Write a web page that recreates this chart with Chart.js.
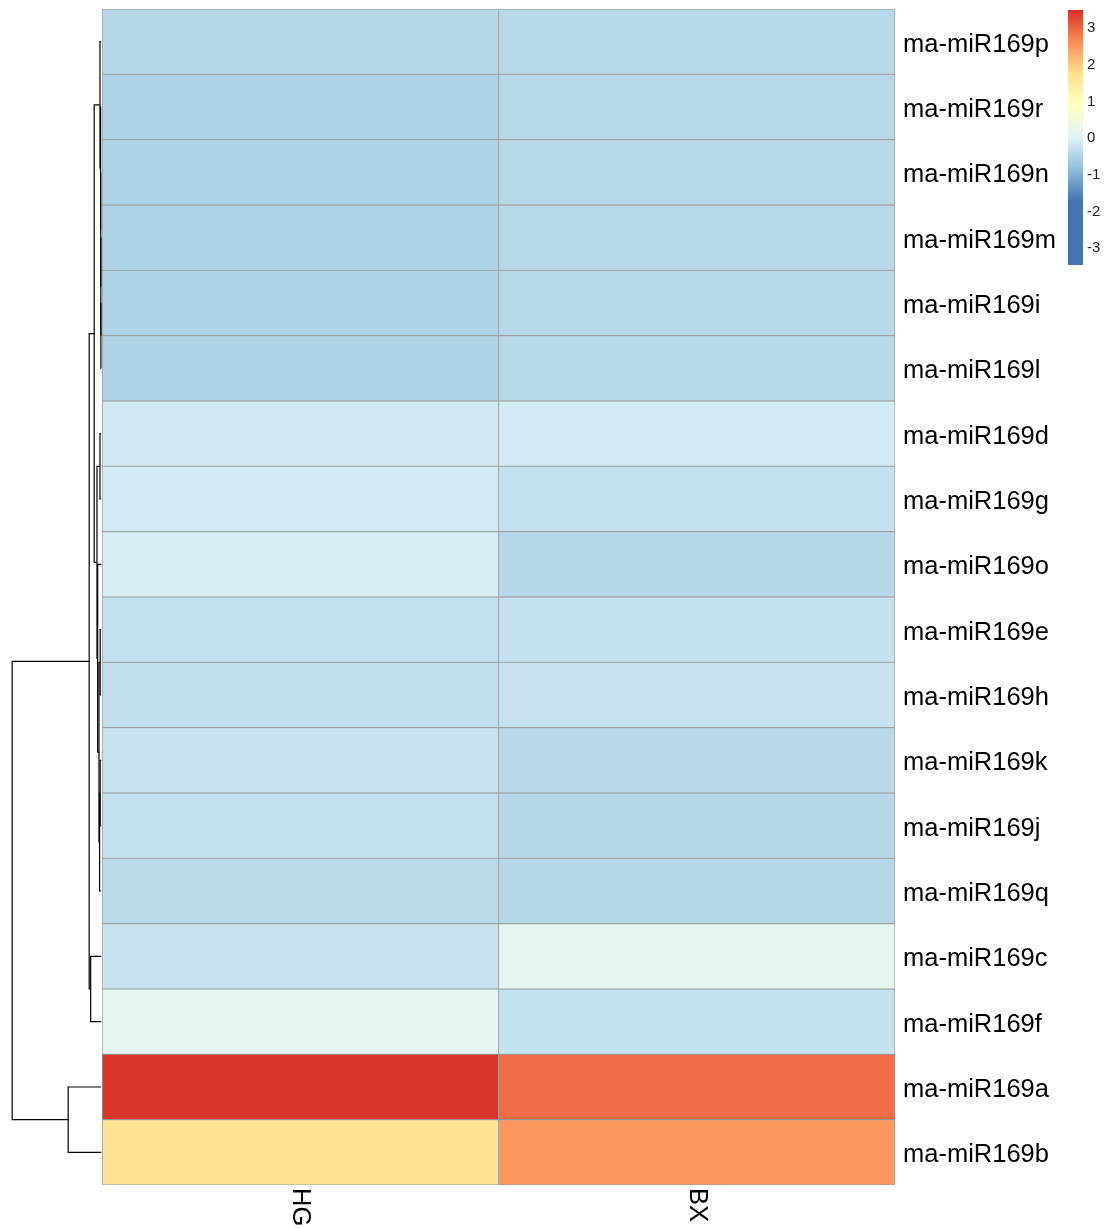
<!DOCTYPE html>
<html lang="en">
<head>
    <meta charset="UTF-8">
    <title>miR169 heatmap</title>
    <style>
        body { margin: 0; background: #ffffff; }
        .wrap { position: relative; width: 1107px; height: 1229px; }
        #heatmap { position: absolute; left: 0; top: 0; }
        #colorKey { position: absolute; left: 1058px; top: 0; }
    </style>
</head>
<body>
<div class="wrap">
    <canvas id="heatmap" width="1058" height="1229"></canvas>
    <canvas id="colorKey" width="49" height="280"></canvas>
</div>

<script src="https://cdn.jsdelivr.net/npm/chart.js"></script>
<script>
// rows in the clustered order, top to bottom
const rowLabels = [
    'ma-miR169p', 'ma-miR169r', 'ma-miR169n', 'ma-miR169m', 'ma-miR169i', 'ma-miR169l',
    'ma-miR169d', 'ma-miR169g', 'ma-miR169o', 'ma-miR169e', 'ma-miR169h', 'ma-miR169k',
    'ma-miR169j', 'ma-miR169q', 'ma-miR169c', 'ma-miR169f', 'ma-miR169a', 'ma-miR169b'
];
const columns = ['HG', 'BX'];

// values
const hgValues = [-0.44, -0.50, -0.50, -0.50, -0.50, -0.50, -0.13, -0.12, -0.07,
                  -0.28, -0.30, -0.23, -0.28, -0.38, -0.23, 0.16, 3.45, 1.68];
const bxValues = [-0.42, -0.42, -0.42, -0.42, -0.42, -0.42, -0.12, -0.28, -0.44,
                  -0.27, -0.25, -0.41, -0.44, -0.43, 0.16, -0.27, 2.94, 2.53];

// colour scale (RdYlBu reversed) and colour key
const colorStops = [-1.7, -0.833, 0.033, 0.9, 1.767, 2.633, 3.5];
const colorRamp = ['#4575B4', '#91BFDB', '#E0F3F8', '#FFFFBF', '#FEE090', '#FC8D59', '#D73027'];
const keyRange = [-3.46, 3.5];
const keyTicks = [-3, -2, -1, 0, 1, 2, 3];

// row clustering: [child, child, height]; numbers refer to earlier merges (1-based)
const merges = [
    ['ma-miR169i', 'ma-miR169l', 0.3],
    ['ma-miR169m', 1, 0.4],
    ['ma-miR169n', 2, 0.5],
    ['ma-miR169r', 3, 0.6],
    ['ma-miR169p', 4, 1.2],
    ['ma-miR169d', 'ma-miR169g', 1.2],
    ['ma-miR169k', 'ma-miR169j', 1.0],
    [7, 'ma-miR169q', 1.6],
    ['ma-miR169e', 'ma-miR169h', 1.0],
    [9, 8, 2.2],
    ['ma-miR169o', 10, 3.5],
    [6, 11, 4.2],
    [5, 12, 7.0],
    ['ma-miR169c', 'ma-miR169f', 10.5],
    [13, 14, 12.0],
    ['ma-miR169a', 'ma-miR169b', 33],
    [15, 16, 89]
];

Chart.defaults.font.family = '"Liberation Sans", Arial, sans-serif';
Chart.defaults.color = '#000';

function hexToRgb(hex) {
    const n = parseInt(hex.slice(1), 16);
    return [(n >> 16) & 255, (n >> 8) & 255, n & 255];
}

function valueColor(v) {
    if (v <= colorStops[0]) return colorRamp[0];
    for (let i = 1; i < colorStops.length; i++) {
        if (v <= colorStops[i]) {
            const t = (v - colorStops[i - 1]) / (colorStops[i] - colorStops[i - 1]);
            const a = hexToRgb(colorRamp[i - 1]);
            const b = hexToRgb(colorRamp[i]);
            const c = a.map((x, k) => Math.round(x + (b[k] - x) * t));
            return `rgb(${c[0]}, ${c[1]}, ${c[2]})`;
        }
    }
    return colorRamp[colorRamp.length - 1];
}

// dendrogram lives left of column 0 on the same x axis
const dendroSpan = 0.2245;
const leafGap = 0.0025;
const rootHeight = merges[merges.length - 1][2];
const hx = h => -(leafGap + h / rootHeight * dendroSpan);

const leafIndex = {};
rowLabels.forEach((r, i) => { leafIndex[r] = i; });
const nodes = [];
const nodeOf = ref => typeof ref === 'string' ? { y: leafIndex[ref], h: 0 } : nodes[ref - 1];

const dendroDatasets = merges.map(([a, b, h]) => {
    const A = nodeOf(a), B = nodeOf(b);
    nodes.push({ y: (A.y + B.y) / 2, h: h });
    return {
        type: 'line',
        indexAxis: 'x',
        xAxisID: 'x',
        yAxisID: 'yd',
        data: [
            { x: hx(A.h), y: A.y },
            { x: hx(h), y: A.y },
            { x: hx(h), y: B.y },
            { x: hx(B.h), y: B.y }
        ],
        borderColor: '#000',
        borderWidth: 1.2,
        pointRadius: 0,
        fill: false,
        tension: 0
    };
});

const cellDatasets = [hgValues, bxValues].map((vals, ci) => ({
    type: 'bar',
    indexAxis: 'y',
    label: columns[ci],
    xAxisID: 'x',
    yAxisID: 'y',
    data: rowLabels.map(() => [ci, ci + 1]),
    backgroundColor: vals.map(valueColor),
    borderColor: '#999999',
    borderWidth: 0.8,
    borderSkipped: false,
    barPercentage: 1,
    categoryPercentage: 1,
    grouped: false
}));

// column names, rotated clockwise under the cells
const columnLabelPlugin = {
    id: 'columnLabels',
    afterDraw(chart) {
        const { ctx, chartArea, scales } = chart;
        ctx.save();
        ctx.font = '25.5px "Liberation Sans", Arial, sans-serif';
        ctx.fillStyle = '#000';
        ctx.textAlign = 'left';
        ctx.textBaseline = 'middle';
        columns.forEach((name, i) => {
            const x = scales.x.getPixelForValue(i + 0.5);
            ctx.save();
            ctx.translate(x, chartArea.bottom + 3);
            ctx.rotate(Math.PI / 2);
            ctx.fillText(name, 0, 0);
            ctx.restore();
        });
        ctx.restore();
    }
};

new Chart(document.getElementById('heatmap'), {
    type: 'bar',
    data: {
        labels: rowLabels,
        datasets: [...cellDatasets, ...dendroDatasets]
    },
    options: {
        responsive: false,
        animation: false,
        layout: { autoPadding: false, padding: { top: 9, bottom: 44, left: 11, right: 0 } },
        plugins: { legend: { display: false }, tooltip: { enabled: false } },
        scales: {
            x: {
                type: 'linear',
                min: -0.23,
                max: 2,
                offset: false,
                display: false,
                ticks: { display: false }
            },
            y: {
                type: 'category',
                labels: rowLabels,
                position: 'right',
                offset: true,
                grid: { display: false, drawTicks: false },
                border: { display: false },
                ticks: { padding: 8, labelOffset: 3, font: { size: 25.5 }, color: '#000' },
                afterFit(scale) {
                    scale.width = 163;
                    scale.paddingTop = 0;
                    scale.paddingBottom = 0;
                }
            },
            yd: {
                type: 'linear',
                axis: 'y',
                min: -0.5,
                max: rowLabels.length - 0.5,
                reverse: true,
                offset: false,
                display: false,
                ticks: { display: false }
            }
        }
    },
    plugins: [columnLabelPlugin]
});

// colour key
new Chart(document.getElementById('colorKey'), {
    type: 'bar',
    data: {
        labels: [''],
        datasets: [{
            data: [keyRange],
            backgroundColor(c) {
                const chart = c.chart;
                if (!chart.chartArea) return colorRamp[0];
                const ys = chart.scales.y;
                const g = chart.ctx.createLinearGradient(0, ys.getPixelForValue(keyRange[0]), 0, ys.getPixelForValue(keyRange[1]));
                const span = keyRange[1] - keyRange[0];
                colorStops.forEach((v, i) => {
                    const t = Math.min(1, Math.max(0, (v - keyRange[0]) / span));
                    g.addColorStop(t, colorRamp[i]);
                });
                return g;
            },
            borderWidth: 0,
            barPercentage: 1,
            categoryPercentage: 1
        }]
    },
    options: {
        responsive: false,
        animation: false,
        layout: { autoPadding: false, padding: { top: 10, bottom: 15, left: 10, right: 0 } },
        plugins: { legend: { display: false }, tooltip: { enabled: false } },
        scales: {
            x: { display: false, ticks: { display: false } },
            y: {
                type: 'linear',
                min: keyRange[0],
                max: keyRange[1],
                position: 'right',
                grid: { display: false, drawTicks: false },
                border: { display: false },
                afterBuildTicks(scale) { scale.ticks = keyTicks.map(v => ({ value: v })); },
                ticks: { padding: 4, font: { size: 15 }, color: '#222' },
                afterFit(scale) {
                    scale.width = 24;
                    scale.paddingTop = 0;
                    scale.paddingBottom = 0;
                }
            }
        }
    }
});
</script>
</body>
</html>
